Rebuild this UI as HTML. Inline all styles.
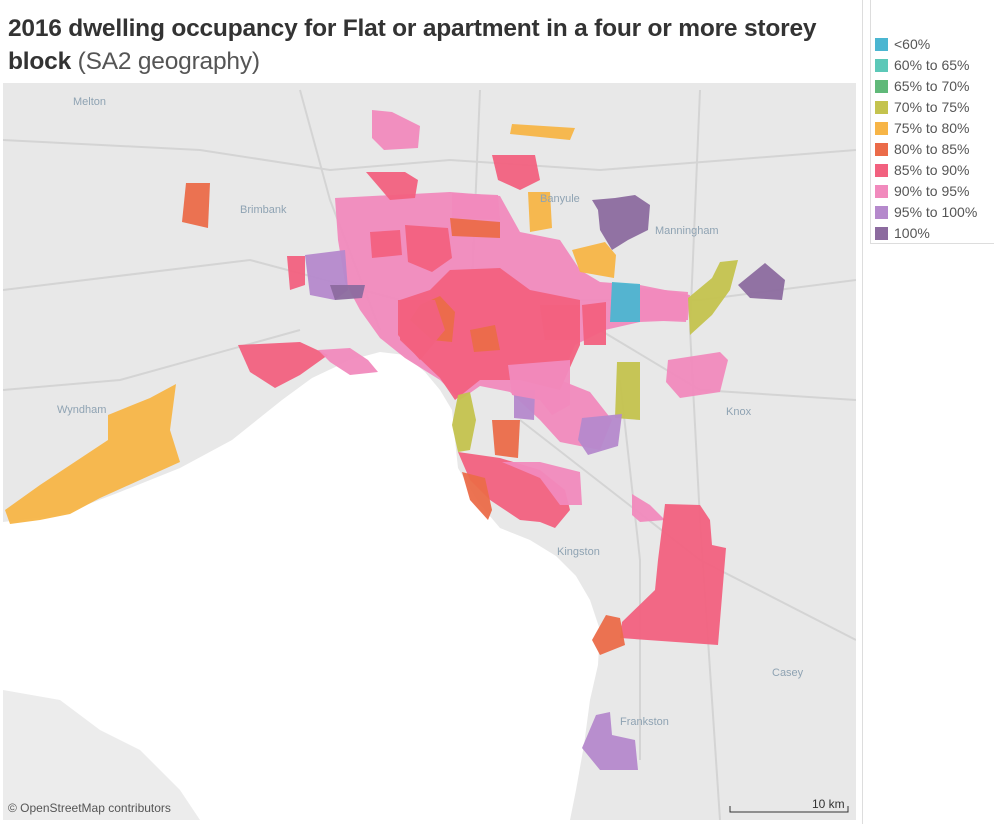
<!DOCTYPE html>
<html><head><meta charset="utf-8"><style>
body{margin:0;width:994px;height:824px;background:#fff;font-family:"Liberation Sans",sans-serif;overflow:hidden;position:relative}
#title{position:absolute;left:8px;top:12px;font-size:24.5px;line-height:33px;color:#333;width:845px;letter-spacing:-0.2px}
#title b{font-weight:bold}
#title span{font-weight:normal;color:#555}
#map{position:absolute;left:3px;top:83px}
#divider{position:absolute;left:862px;top:0;width:1px;height:824px;background:#ddd}
#legend{position:absolute;left:870px;top:0;width:123px;height:243px;border:1px solid #ddd;border-top:none;background:#fff}
.li{position:absolute;left:4px;height:18px;font-size:14px;color:#555;line-height:16px}
.li i{display:inline-block;width:13px;height:13px;vertical-align:-2px;margin-right:6px}
</style></head><body>
<div id="title"><b>2016 dwelling occupancy for Flat or apartment in a four or more storey block</b> <span>(SA2 geography)</span></div>
<div id="divider"></div>
<div id="legend"></div>
<svg id="map" width="853" height="737" viewBox="3 83 853 737">
<rect x="3" y="83" width="853" height="737" fill="#e8e8e8"/>
<g id="roads" stroke="#d4d4d4" stroke-width="2" fill="none">
<path d="M3 140 L200 150 L330 170 L450 160 L600 170 L856 150"/>
<path d="M3 290 L250 260 L400 300 L700 300 L856 280"/>
<path d="M3 390 L120 380 L300 330"/>
<path d="M600 330 L700 390 L856 400"/>
<path d="M520 420 L700 560 L856 640"/>
<path d="M620 380 L640 560 L640 760"/>
<path d="M300 90 L330 200 L380 330"/>
<path d="M480 90 L470 330"/>
<path d="M700 90 L690 330 L700 520 L720 820"/>
<path d="M20 590 L120 640 L250 700"/>
</g>
<path d="M3 522 L60 515 L120 492 L180 468 L232 440 L282 400 L312 378 L350 360 L380 352 L405 355 L425 372 L440 390 L452 410 L455 440 L458 468 L478 502 L500 528 L530 540 L556 556 L576 576 L590 600 L600 630 L598 665 L590 700 L584 745 L576 790 L570 820 L3 820 Z" fill="#fff"/>
<path d="M3 690 L60 700 L100 730 L140 750 L180 790 L200 820 L3 820 Z" fill="#ececec"/>
<g id="regions"></g>
<g font-size="11" fill="#8fa3b3">
<text x="73" y="105">Melton</text><text x="240" y="213">Brimbank</text><text x="57" y="413">Wyndham</text>
<text x="655" y="234">Manningham</text><text x="726" y="415">Knox</text><text x="557" y="555">Kingston</text>
<text x="772" y="676">Casey</text><text x="620" y="725">Frankston</text><text x="540" y="202">Banyule</text>
</g>
<text x="8" y="812" font-size="12" fill="#555">© OpenStreetMap contributors</text>
<path d="M730 806 L730 812 L848 812 L848 806" stroke="#333" fill="none"/>
<text x="812" y="808" font-size="12" fill="#333">10 km</text>
</svg>
<script>
const bands = ['<60%','60% to 65%','65% to 70%','70% to 75%','75% to 80%','80% to 85%','85% to 90%','90% to 95%','95% to 100%','100%'];
const bandColors = ['#4bb6d1','#5cc8b8','#60b979','#c4c34e','#f7b547','#eb6b49','#f2617f','#f18abd','#b589cc','#8c6b9f'];
const regionNames = ['wyndham','melton-north','brimbank','hume','central-pink','inner-red','moreland-red','darebin-orange','darebin-north','banyule','north-red','manningham','doncaster-orange','whitehorse-blue','whitehorse-pink','maroondah-green','maroondah-purple','maribyrnong','footscray','hobsons-bay','altona-pink','cbd-orange','boroondara-orange','glen-eira-purple','monash-green','bayside-green','moorabbin-orange','monash-purple','knox-pink','bayside-red','brighton-orange','bayside-pink','dandenong-pink','dandenong-red','frankston-north','frankston','southeast-pink','brunswick-red','coburg-red','kew-red','camberwell-red','box-hill-red','maribyrnong-dark'];
const regionBand = [4,4,5,7,7,6,6,5,7,4,6,9,4,0,7,3,9,8,6,6,7,5,5,8,3,3,5,8,7,6,5,7,7,6,5,8,7,6,6,6,6,6,9];
const regionShapes = [
'5,510 40,485 108,440 108,415 150,398 176,384 170,430 180,462 140,480 100,498 70,514 40,520 10,524',
'512,124 575,128 570,140 510,134',
'186,183 210,183 208,228 182,222',
'372,110 392,112 420,126 418,148 384,150 372,138',
'335,198 450,192 500,196 520,232 560,240 580,270 600,282 640,285 690,295 688,320 640,322 605,330 575,345 560,380 590,392 612,420 600,450 560,442 540,420 510,392 480,386 460,400 440,380 405,358 380,338 360,310 345,282 338,240',
'400,300 430,290 450,270 500,268 530,290 580,300 580,345 560,390 520,380 480,380 455,400 440,378 400,340',
'366,172 405,172 418,180 415,198 390,200',
'450,218 500,222 500,238 452,236',
'452,193 498,195 500,220 452,218',
'528,192 550,192 552,228 530,232',
'492,155 535,155 540,180 520,190 498,180',
'592,200 615,198 635,195 650,205 648,230 628,240 612,250 600,230 598,210',
'572,250 605,242 616,255 614,278 580,272',
'612,282 640,284 640,322 610,322',
'640,288 688,292 686,322 640,320',
'688,298 712,278 720,262 738,260 730,290 712,315 690,335',
'738,285 765,263 785,280 782,300 750,298',
'305,255 345,250 348,290 335,300 310,295',
'287,256 305,256 305,285 290,290',
'238,345 300,342 328,355 300,375 275,388 250,372',
'318,350 350,348 368,360 378,372 350,375 330,362',
'420,305 440,296 455,312 452,342 432,340 410,320',
'470,330 495,325 500,350 474,352',
'514,390 535,390 534,420 514,418',
'617,362 640,362 640,420 615,418',
'458,395 470,392 476,420 470,450 458,452 452,425',
'492,420 520,420 518,458 495,455',
'582,418 622,414 618,446 588,455 578,440',
'668,360 720,352 728,360 720,392 680,398 666,382',
'458,452 500,458 540,470 565,490 570,510 555,528 540,522 520,520 490,500 470,480',
'462,472 485,478 492,510 488,520 470,500',
'502,462 540,462 580,472 582,505 560,505 540,478',
'632,494 650,505 665,520 640,522 632,515',
'665,504 700,505 710,520 712,545 726,548 718,645 620,638 622,622 655,590 658,560',
'606,615 620,618 625,645 600,655 592,640',
'596,715 610,712 612,735 635,740 638,770 600,770 582,748',
'508,365 570,360 570,405 552,415 540,400 512,395',
'370,232 400,230 402,255 372,258',
'405,225 448,228 452,258 432,272 408,262',
'540,305 580,305 580,340 545,340',
'582,305 606,302 606,345 584,345',
'398,300 435,300 445,330 420,360 398,335',
'330,285 365,285 362,298 335,300'
];
const svgNS='http://www.w3.org/2000/svg';
const g=document.getElementById('regions');
regionShapes.forEach((pts,i)=>{
  const p=document.createElementNS(svgNS,'polygon');
  p.setAttribute('points',pts);
  p.setAttribute('fill',bandColors[regionBand[i]]);
  p.setAttribute('opacity','0.95');
  
  
  g.appendChild(p);
});
const lg=document.getElementById('legend');
bands.forEach((b,i)=>{
  const d=document.createElement('div');
  d.className='li';
  d.style.top=(36+i*21)+'px';
  d.innerHTML='<i style="background:'+bandColors[i]+'"></i>'+b;
  
  
  lg.appendChild(d);
});
</script>
</body></html>
